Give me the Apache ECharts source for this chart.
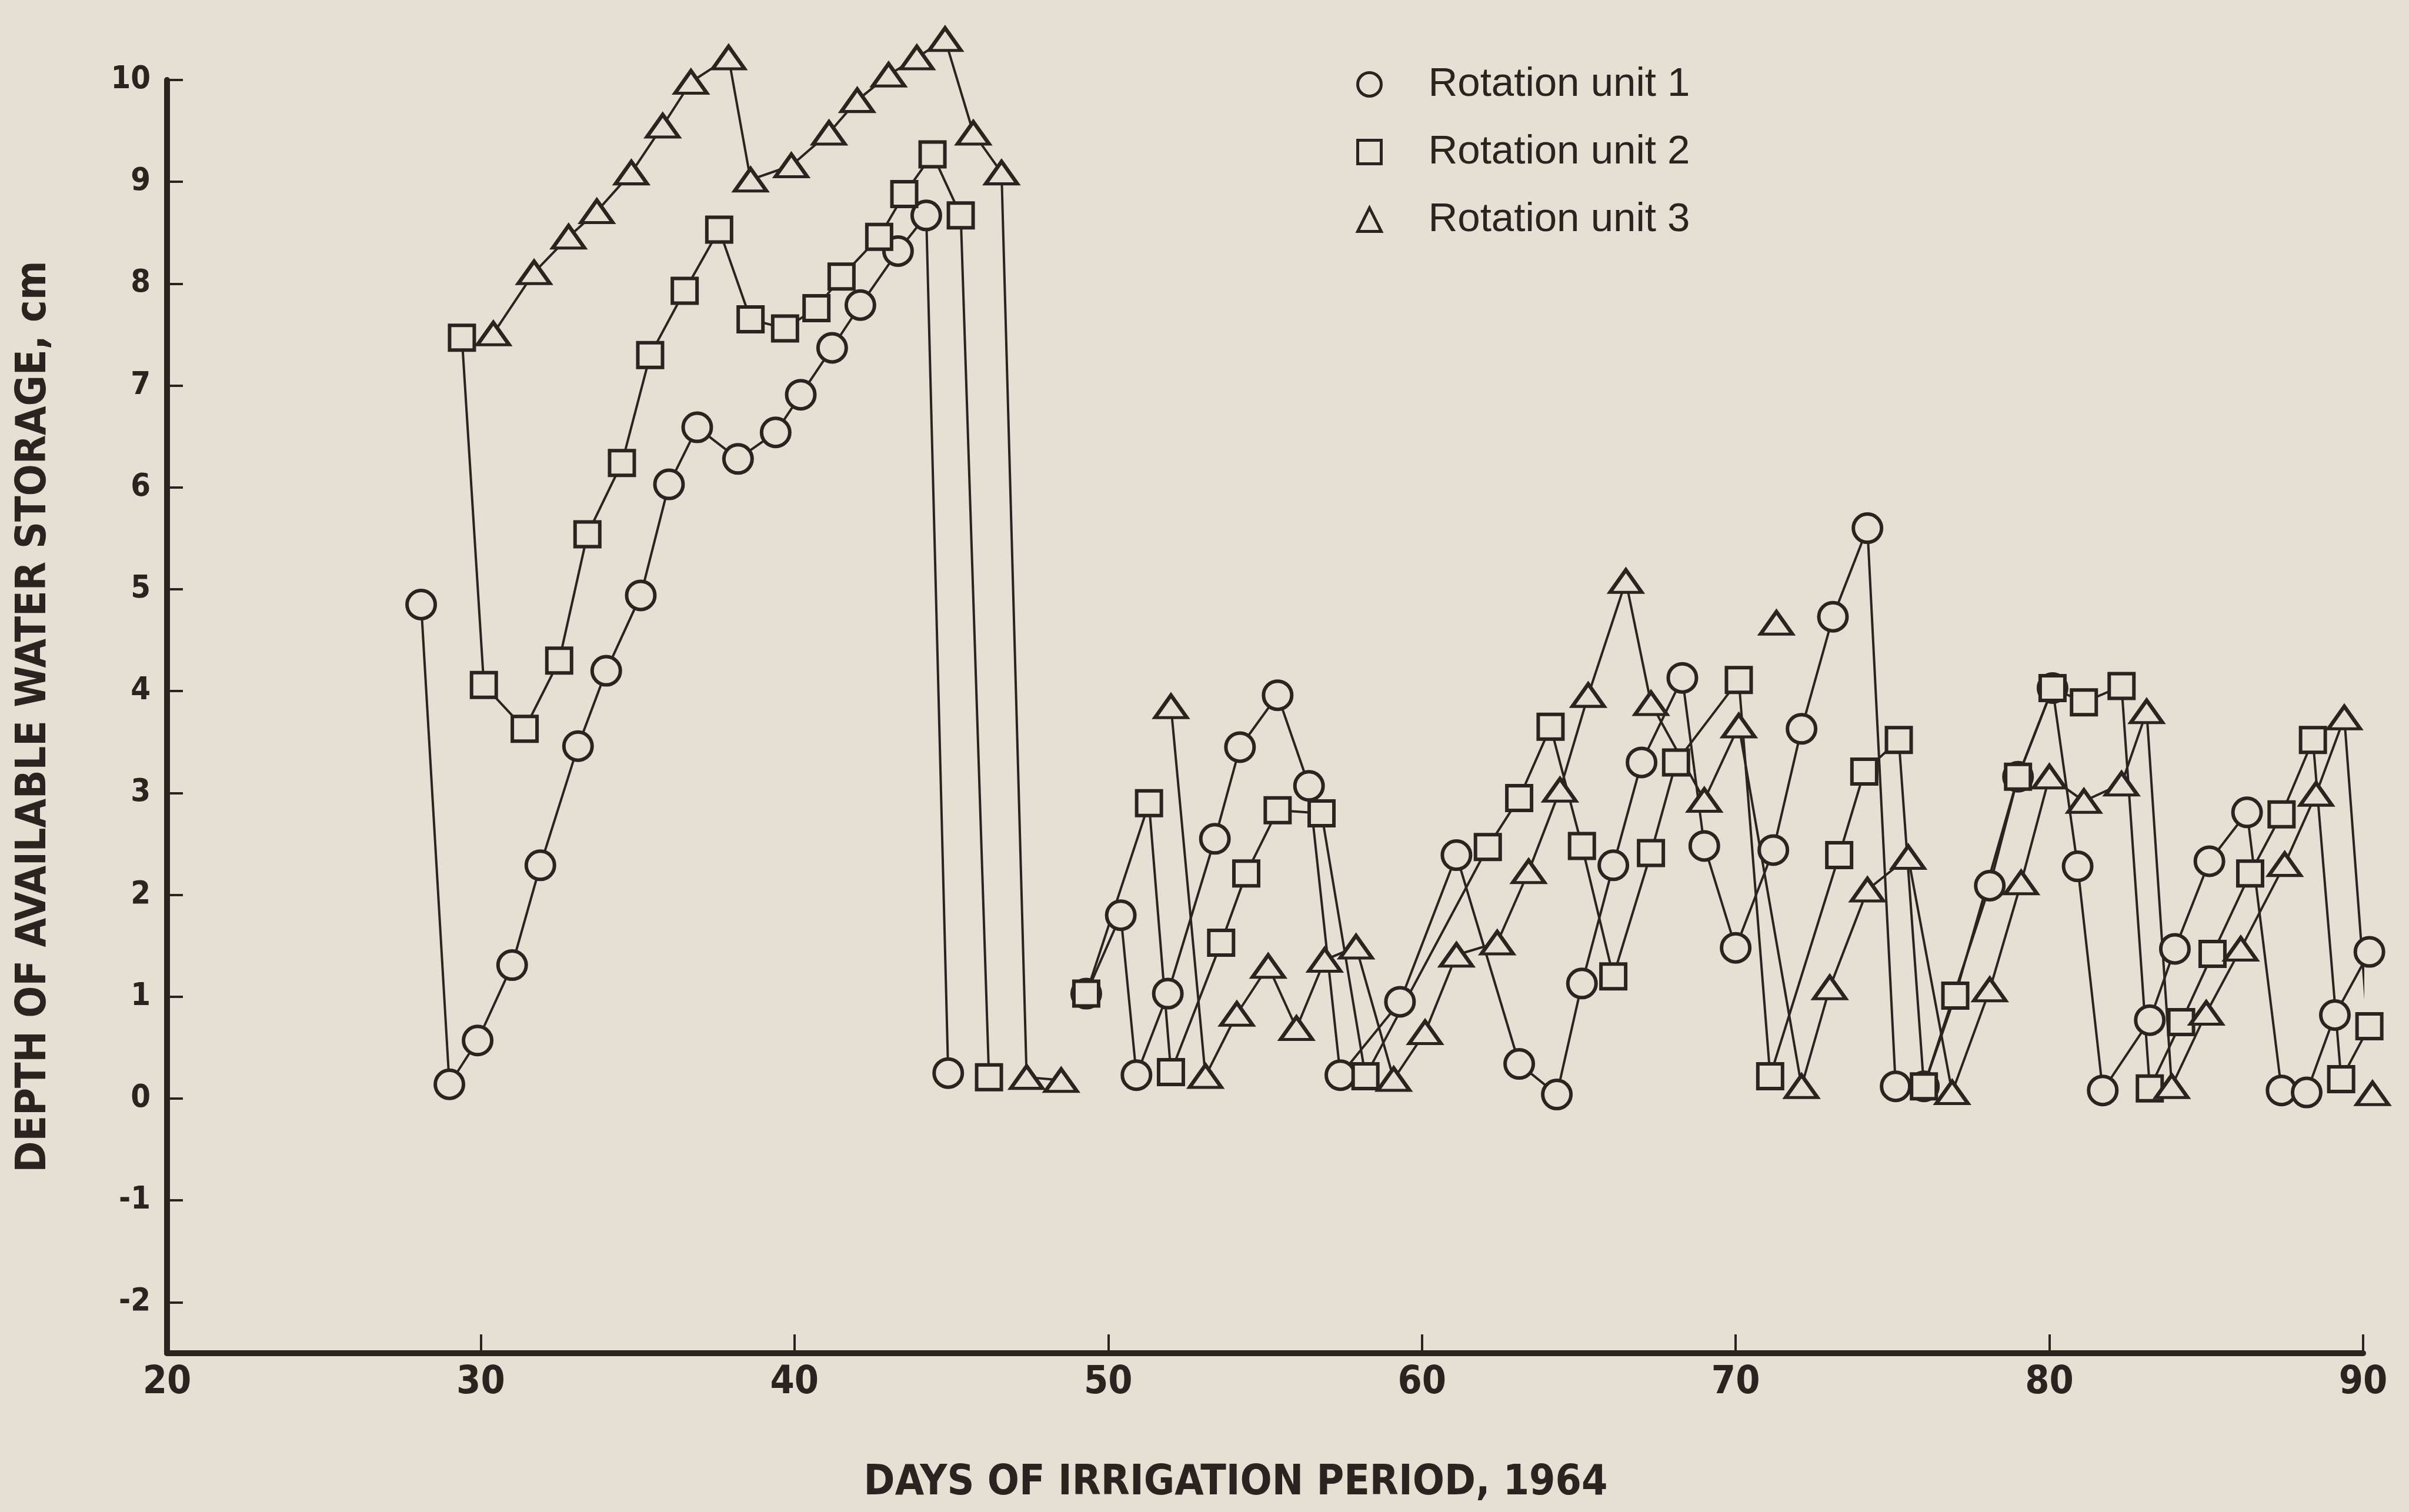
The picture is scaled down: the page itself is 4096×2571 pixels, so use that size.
<!DOCTYPE html>
<html>
<head>
<meta charset="utf-8">
<title>Depth of available water storage, rotation units, 1964</title>
<script src="https://cdn.jsdelivr.net/npm/echarts@6/dist/echarts.min.js"></script>
<style>
  html, body { margin: 0; padding: 0; background: #e6dfd4; }
  #chart { width: 4096px; height: 2571px; }
</style>
</head>
<body>
<div id="chart"></div>
<script>
// Tick labels of both axes
const xTickValues = [20, 30, 40, 50, 60, 70, 80, 90];
const yTickValues = [-2, -1, 0, 1, 2, 3, 4, 5, 6, 7, 8, 9, 10];

// Series names and their markers
const seriesNames = ["Rotation unit 1", "Rotation unit 2", "Rotation unit 3"];
const seriesSymbols = ["circle", "rect", "triangle"];

// Values (day, depth in cm). null = break in the line
const unit1Day = [28.1, 29.0, 29.9, 31.0, 31.9, 33.1, 34.0, 35.1, 36.0, 36.9,
  38.2, 39.4, 40.2, 41.2, 42.1, 43.3, 44.2, 44.9, null, 49.3,
  50.4, 50.9, 51.9, 53.4, 54.2, 55.4, 56.4, 57.4, 59.3, 61.1,
  63.1, 64.3, 65.1, 66.1, 67.0, 68.3, 69.0, 70.0, 71.2, 72.1,
  73.1, 74.2, 75.1, 76.0, 78.1, 79.0, 80.1, 80.9, 81.7, 83.2,
  84.0, 85.1, 86.3, 87.4, 88.2, 89.1, 90.2];
const unit1Depth = [4.85, 0.14, 0.57, 1.31, 2.29, 3.46, 4.20, 4.94, 6.03, 6.59,
  6.28, 6.54, 6.91, 7.37, 7.79, 8.32, 8.67, 0.25, null, 1.03,
  1.80, 0.23, 1.03, 2.55, 3.45, 3.96, 3.07, 0.23, 0.95, 2.39,
  0.34, 0.04, 1.13, 2.29, 3.30, 4.13, 2.48, 1.48, 2.44, 3.63,
  4.73, 5.60, 0.12, 0.12, 2.09, 3.16, 4.03, 2.28, 0.08, 0.77,
  1.47, 2.33, 2.81, 0.08, 0.06, 0.82, 1.44];

const unit2Day = [29.4, 30.1, 31.4, 32.5, 33.4, 34.5, 35.4, 36.5, 37.6, 38.6,
  39.7, 40.7, 41.5, 42.7, 43.5, 44.4, 45.3, 46.2, null, 49.3,
  51.3, 52.0, 53.6, 54.4, 55.4, 56.8, 58.2, 62.1, 63.1, 64.1,
  65.1, 66.1, 67.3, 68.1, 70.1, 71.1, 73.3, 74.1, 75.2, 76.0,
  77.0, 79.0, 80.1, 81.1, 82.3, 83.2, 84.2, 85.2, 86.4, 87.4,
  88.4, 89.3, 90.2];
const unit2Depth = [7.47, 4.06, 3.63, 4.30, 5.54, 6.24, 7.30, 7.93, 8.53, 7.65,
  7.56, 7.76, 8.07, 8.46, 8.88, 9.27, 8.67, 0.21, null, 1.03,
  2.90, 0.26, 1.53, 2.21, 2.83, 2.80, 0.22, 2.47, 2.95, 3.65,
  2.48, 1.20, 2.41, 3.30, 4.11, 0.22, 2.39, 3.21, 3.52, 0.12,
  1.01, 3.16, 4.03, 3.89, 4.05, 0.10, 0.75, 1.42, 2.21, 2.79,
  3.52, 0.19, 0.71];

const unit3Day = [30.4, 31.7, 32.8, 33.7, 34.8, 35.8, 36.7, 37.9, 38.6, 39.9,
  41.1, 42.0, 43.0, 43.9, 44.8, 45.7, 46.6, 47.4, 48.5, null,
  52.0, 53.1, 54.1, 55.1, 56.0, 56.9, 57.9, 59.1, 60.1, 61.1,
  62.4, 63.4, 64.4, 65.3, 66.5, 67.3, 69.0, 70.1, 72.1, 73.0,
  74.2, 75.5, 76.9, 78.1, 79.1, 80.0, 81.1, 82.3, 83.1, 83.9,
  85.0, 86.1, 87.5, 88.5, 89.4, 90.3, null, 71.3];
const unit3Depth = [7.51, 8.11, 8.46, 8.71, 9.09, 9.55, 9.98, 10.22, 9.02, 9.16,
  9.48, 9.80, 10.05, 10.22, 10.40, 9.48, 9.09, 0.21, 0.18, null,
  3.85, 0.22, 0.83, 1.30, 0.69, 1.36, 1.49, 0.19, 0.65, 1.41,
  1.53, 2.23, 3.03, 3.96, 5.08, 3.88, 2.93, 3.66, 0.12, 1.09,
  2.05, 2.37, 0.06, 1.07, 2.12, 3.16, 2.92, 3.09, 3.80, 0.12,
  0.84, 1.47, 2.30, 2.99, 3.74, 0.05, null, 4.67];

const INK = "#2a2420";
const PAPER = "#e6dfd4";
const NARROW = '"DejaVu Sans Condensed", "Liberation Sans", sans-serif';

// one line series per rotation unit, hollow markers
function makeSeries(name, days, depths, symbol, size) {
  return {
    name: name,
    type: "line",
    data: days.map((d, i) => [d, depths[i]]),
    symbol: symbol,
    symbolSize: size,
    showSymbol: true,
    connectNulls: false,
    clip: false,
    lineStyle: { color: INK, width: 4 },
    itemStyle: { color: PAPER, borderColor: INK, borderWidth: 6 },
    emphasis: { disabled: true },
  };
}

const chart = echarts.init(document.getElementById("chart"));

chart.setOption({
  animation: false,
  backgroundColor: PAPER,
  grid: { left: 284, right: 78, top: 136, bottom: 270 },
  legend: {
    orient: "vertical",
    left: 2301,
    top: 104,
    itemWidth: 40,
    itemHeight: 40,
    itemGap: 46,
    selectedMode: false,
    data: seriesNames.map((n, i) => ({ name: n, icon: seriesSymbols[i] })),
    itemStyle: { color: PAPER, borderColor: INK, borderWidth: 5 },
    textStyle: { fontFamily: "Liberation Sans", fontSize: 69, color: INK, padding: [0, 0, 0, 75] },
  },
  xAxis: {
    type: "value",
    min: 20,
    max: 90,
    interval: 10,
    name: "DAYS OF IRRIGATION PERIOD, 1964",
    nameLocation: "middle",
    nameGap: 186,
    nameTextStyle: { fontFamily: NARROW, fontSize: 71, fontWeight: "bold", color: INK,
      padding: [0, 100, 0, 0] },
    axisLine: { onZero: false, lineStyle: { color: INK, width: 10 } },
    axisTick: { inside: true, length: 32, lineStyle: { color: INK, width: 4 } },
    axisLabel: { margin: 18, fontFamily: NARROW, fontSize: 66, fontWeight: "bold", color: INK,
      customValues: xTickValues },
    splitLine: { show: false },
  },
  yAxis: {
    type: "value",
    min: -2.5,
    max: 10,
    name: "DEPTH OF AVAILABLE WATER STORAGE, cm",
    nameLocation: "middle",
    nameGap: 190,
    nameTextStyle: { fontFamily: NARROW, fontSize: 71, fontWeight: "bold", color: INK },
    axisLine: { show: true, onZero: false, lineStyle: { color: INK, width: 10 } },
    axisTick: { show: true, inside: true, length: 27, customValues: yTickValues,
      lineStyle: { color: INK, width: 4 } },
    axisLabel: { margin: 28, fontFamily: NARROW, fontSize: 54, fontWeight: "bold", color: INK,
      customValues: yTickValues },
    splitLine: { show: false },
  },
  series: [
    makeSeries(seriesNames[0], unit1Day, unit1Depth, seriesSymbols[0], 48),
    makeSeries(seriesNames[1], unit2Day, unit2Depth, seriesSymbols[1], 42),
    makeSeries(seriesNames[2], unit3Day, unit3Depth, seriesSymbols[2], [54, 38]),
  ],
});
</script>
</body>
</html>
